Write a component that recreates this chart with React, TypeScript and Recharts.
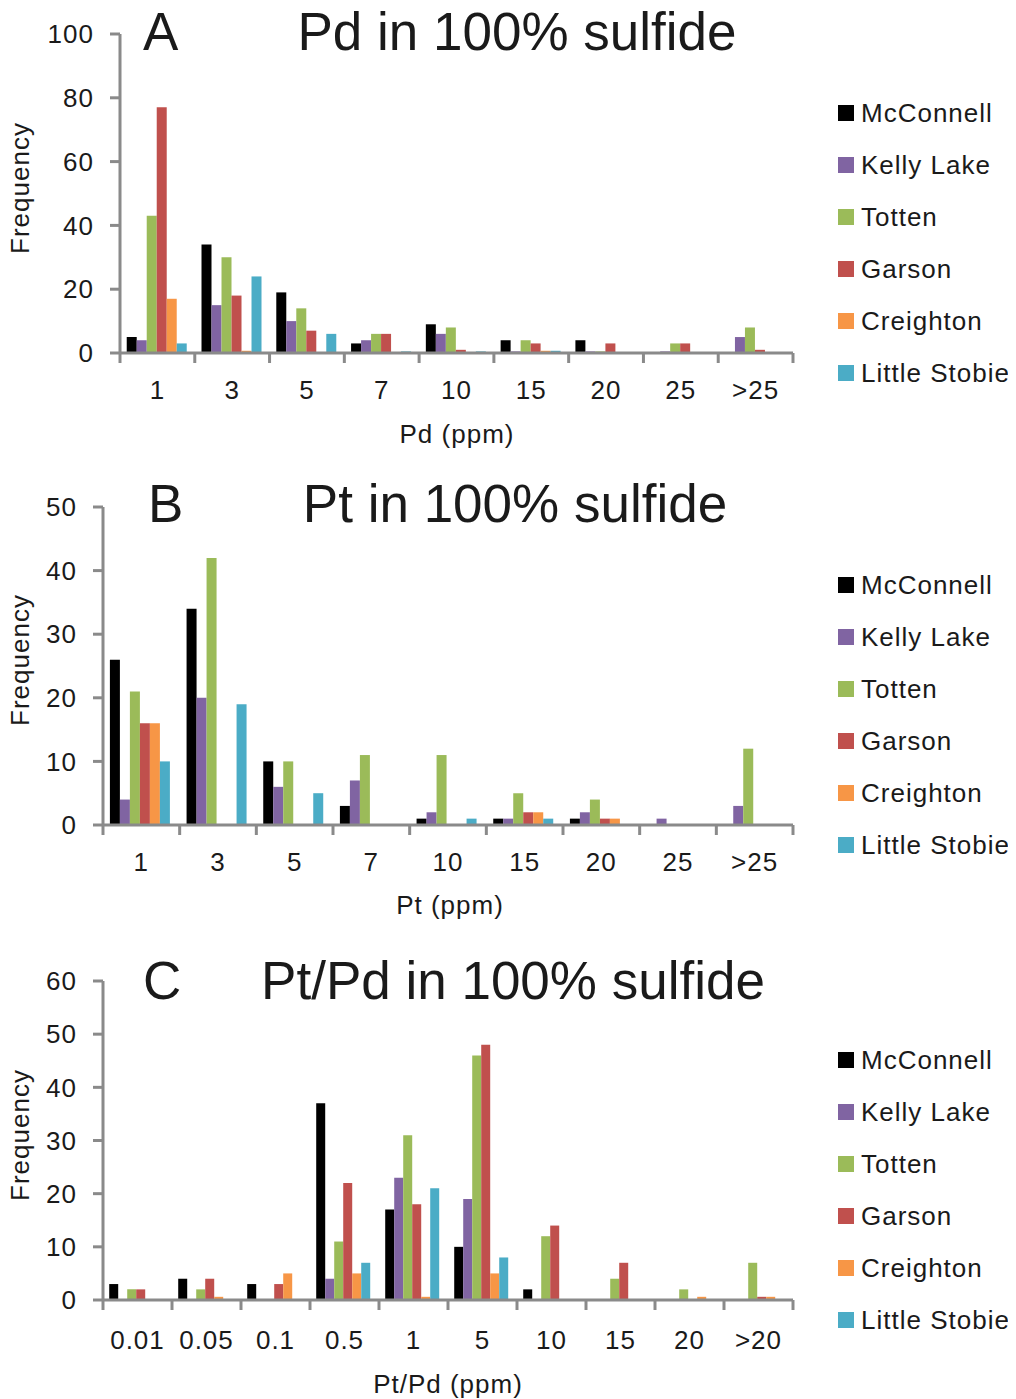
import React from 'react';
import { BarChart, Bar, XAxis, YAxis, Legend } from 'recharts';

const seriesNames = ['McConnell', 'Kelly Lake', 'Totten', 'Garson', 'Creighton', 'Little Stobie'];
const seriesColors = ['#000000', '#8064A2', '#9BBB59', '#C0504D', '#F79646', '#4BACC6'];

// Panel A: Pd in 100% sulfide
const pdCategories = ['1', '3', '5', '7', '10', '15', '20', '25', '>25'];
const pdMcConnell = [5, 34, 19, 3, 9, 4, 4, 0, 0];
const pdKellyLake = [4, 15, 10, 4, 6, 0.5, 0.5, 0.5, 5];
const pdTotten = [43, 30, 14, 6, 8, 4, 0.5, 3, 8];
const pdGarson = [77, 18, 7, 6, 1, 3, 3, 3, 1];
const pdCreighton = [17, 0.7, 0, 0, 0, 0.7, 0, 0, 0];
const pdLittleStobie = [3, 24, 6, 0.5, 0.5, 0.7, 0, 0, 0];

// Panel B: Pt in 100% sulfide
const ptCategories = ['1', '3', '5', '7', '10', '15', '20', '25', '>25'];
const ptMcConnell = [26, 34, 10, 3, 1, 1, 1, 0, 0];
const ptKellyLake = [4, 20, 6, 7, 2, 1, 2, 1, 3];
const ptTotten = [21, 42, 10, 11, 11, 5, 4, 0, 12];
const ptGarson = [16, 0, 0, 0, 0, 2, 1, 0, 0];
const ptCreighton = [16, 0, 0, 0, 0, 2, 1, 0, 0];
const ptLittleStobie = [10, 19, 5, 0, 1, 1, 0, 0, 0];

// Panel C: Pt/Pd in 100% sulfide
const ratioCategories = ['0.01', '0.05', '0.1', '0.5', '1', '5', '10', '15', '20', '>20'];
const ratioMcConnell = [3, 4, 3, 37, 17, 10, 2, 0, 0, 0];
const ratioKellyLake = [0, 0, 0, 4, 23, 19, 0, 0, 0, 0];
const ratioTotten = [2, 2, 0, 11, 31, 46, 12, 4, 2, 7];
const ratioGarson = [2, 4, 3, 22, 18, 48, 14, 7, 0, 0.6];
const ratioCreighton = [0, 0.6, 5, 5, 0.6, 5, 0, 0, 0.6, 0.6];
const ratioLittleStobie = [0, 0, 0, 7, 21, 8, 0, 0, 0, 0];

const pdTicks = [0, 20, 40, 60, 80, 100];
const ptTicks = [0, 10, 20, 30, 40, 50];
const ratioTicks = [0, 10, 20, 30, 40, 50, 60];

const buildData = (cats: string[], series: number[][]) =>
  cats.map((c, i) => {
    const row: Record<string, string | number> = { cat: c };
    seriesNames.forEach((n, s) => {
      row[n] = series[s][i];
    });
    return row;
  });

const pdData = buildData(pdCategories, [pdMcConnell, pdKellyLake, pdTotten, pdGarson, pdCreighton, pdLittleStobie]);
const ptData = buildData(ptCategories, [ptMcConnell, ptKellyLake, ptTotten, ptGarson, ptCreighton, ptLittleStobie]);
const ratioData = buildData(ratioCategories, [
  ratioMcConnell,
  ratioKellyLake,
  ratioTotten,
  ratioGarson,
  ratioCreighton,
  ratioLittleStobie,
]);

const FONT = '"Liberation Sans", Arial, Helvetica, sans-serif';
const AXIS = '#8a8a8a';
const TEXT = '#1a1a1a';
const W = 1000;
const YW = 60;

const LegendContent = () => (
  <div style={{ fontFamily: FONT }}>
    {seriesNames.map((n, i) => (
      <div key={n} style={{ display: 'flex', alignItems: 'center', height: 52 }}>
        <div style={{ width: 16, height: 16, background: seriesColors[i], marginRight: 7 }} />
        <span style={{ fontSize: 26, letterSpacing: 1, color: TEXT, whiteSpace: 'nowrap' }}>{n}</span>
      </div>
    ))}
  </div>
);

type PanelProps = {
  data: Record<string, string | number>[];
  yMax: number;
  yTicks: number[];
  top: number;
  height: number;
  plotTop: number;
  plotBottom: number;
  plotLeft: number;
  plotRight: number;
  letter: string;
  letterX: number;
  title: string;
  titleX: number;
  titleY: number;
  freqY: number;
  xTitle: string;
  xTitleX: number;
  xTitleY: number;
  tickDy: number;
  legendTop: number;
};

const Panel = (p: PanelProps) => {
  const n = p.data.length;
  const band = (p.plotRight - p.plotLeft) / n;
  const XTick = (props: any) => {
    const { x, index, payload } = props;
    const axisY = p.plotBottom;
    return (
      <g>
        <line x1={x - band / 2} x2={x - band / 2} y1={axisY} y2={axisY + 10} stroke={AXIS} strokeWidth={3} />
        {index === n - 1 && (
          <line x1={x + band / 2} x2={x + band / 2} y1={axisY} y2={axisY + 10} stroke={AXIS} strokeWidth={3} />
        )}
        <text
          x={x}
          y={axisY + p.tickDy}
          textAnchor="middle"
          fontSize={26}
          letterSpacing={1}
          fill={TEXT}
          fontFamily={FONT}
        >
          {payload.value}
        </text>
      </g>
    );
  };
  const xAxisH = 70;
  return (
    <div style={{ position: 'absolute', left: 0, top: p.top, width: W, height: p.height }}>
      <BarChart
        width={W}
        height={p.height}
        data={p.data}
        barCategoryGap="9%"
        barGap={0}
        margin={{
          top: p.plotTop,
          right: W - p.plotRight,
          left: p.plotLeft - YW,
          bottom: p.height - p.plotBottom - xAxisH,
        }}
      >
        <XAxis
          dataKey="cat"
          interval={0}
          height={xAxisH}
          tickLine={false}
          axisLine={{ stroke: AXIS, strokeWidth: 3 }}
          tick={<XTick />}
        />
        <YAxis
          type="number"
          domain={[0, p.yMax]}
          ticks={p.yTicks}
          width={YW}
          interval={0}
          tickSize={10}
          tickMargin={16}
          tickLine={{ stroke: AXIS, strokeWidth: 3 }}
          axisLine={{ stroke: AXIS, strokeWidth: 3 }}
          tick={{ fontSize: 26, fill: TEXT, fontFamily: FONT, letterSpacing: 1 }}
        />
        <Legend
          layout="vertical"
          align="center"
          verticalAlign="middle"
          wrapperStyle={{ left: 830, top: p.legendTop, width: 180 }}
          content={<LegendContent />}
        />
        {seriesNames.map((s, i) => (
          <Bar key={s} dataKey={s} fill={seriesColors[i]} isAnimationActive={false} />
        ))}
      </BarChart>
      <svg
        width={W}
        height={p.height}
        style={{ position: 'absolute', left: 0, top: 0, pointerEvents: 'none', overflow: 'visible' }}
      >
        <text x={p.letterX} y={p.titleY} fontSize={53} fill={TEXT} fontFamily={FONT}>
          {p.letter}
        </text>
        <text x={p.titleX} y={p.titleY} fontSize={53} fill={TEXT} fontFamily={FONT} textAnchor="middle">
          {p.title}
        </text>
        <text
          x={21}
          y={p.freqY}
          fontSize={26}
          letterSpacing={1}
          fill={TEXT}
          fontFamily={FONT}
          textAnchor="middle"
          transform={`rotate(-90 21 ${p.freqY})`}
        >
          Frequency
        </text>
        <text
          x={p.xTitleX}
          y={p.xTitleY}
          fontSize={26}
          letterSpacing={1}
          fill={TEXT}
          fontFamily={FONT}
          textAnchor="middle"
        >
          {p.xTitle}
        </text>
      </svg>
    </div>
  );
};

export default function App() {
  return (
    <div style={{ position: 'relative', width: W, height: 1391, fontFamily: FONT, background: '#fff' }}>
      <Panel
        data={pdData}
        yMax={100}
        yTicks={pdTicks}
        top={0}
        height={450}
        plotTop={26}
        plotBottom={345}
        plotLeft={112}
        plotRight={785}
        letter="A"
        letterX={135}
        title="Pd in 100% sulfide"
        titleX={509}
        titleY={42}
        freqY={180}
        xTitle="Pd (ppm)"
        xTitleX={449}
        xTitleY={435}
        tickDy={46}
        legendTop={79}
      />
      <Panel
        data={ptData}
        yMax={50}
        yTicks={ptTicks}
        top={462}
        height={460}
        plotTop={37}
        plotBottom={355}
        plotLeft={95}
        plotRight={785}
        letter="B"
        letterX={140}
        title="Pt in 100% sulfide"
        titleX={507}
        titleY={52}
        freqY={190}
        xTitle="Pt (ppm)"
        xTitleX={442}
        xTitleY={444}
        tickDy={46}
        legendTop={89}
      />
      <Panel
        data={ratioData}
        yMax={60}
        yTicks={ratioTicks}
        top={937}
        height={454}
        plotTop={36}
        plotBottom={355}
        plotLeft={95}
        plotRight={785}
        letter="C"
        letterX={135}
        title="Pt/Pd in 100% sulfide"
        titleX={505}
        titleY={54}
        freqY={190}
        xTitle="Pt/Pd (ppm)"
        xTitleX={440}
        xTitleY={448}
        tickDy={49}
        legendTop={89}
      />
    </div>
  );
}
